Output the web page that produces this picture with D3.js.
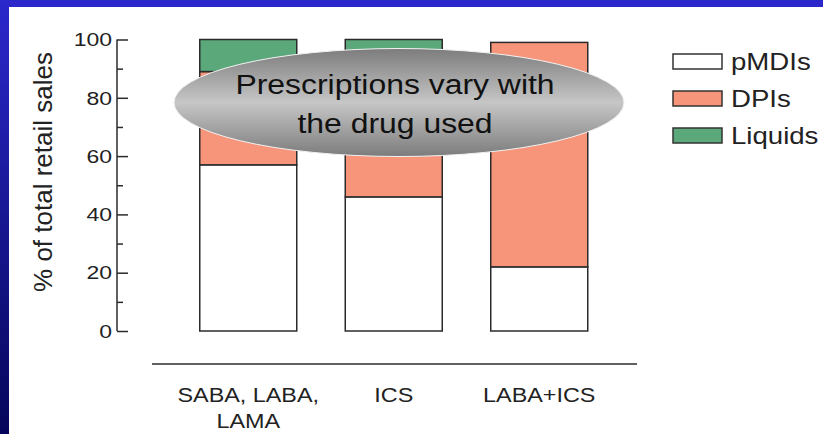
<!DOCTYPE html>
<html>
<head>
<meta charset="utf-8">
<script src="https://cdn.jsdelivr.net/npm/d3@7"></script>
<style>
  body { margin: 0; }
  svg { display: block; font-family: "Liberation Sans", Arial, sans-serif; }
</style>
</head>
<body>
<svg width="823" height="434"></svg>
<script>
// chart data
var categories = [["SABA, LABA,", "LAMA"], ["ICS"], ["LABA+ICS"]];
var series = ["pMDIs", "DPIs", "Liquids"];
var pmdis = [57, 46, 22];
var dpis = [32, 49, 77];
var liquids = [11, 5, 0];
var yTicks = [0, 20, 40, 60, 80, 100];
var colors = ["#ffffff", "#f7957a", "#5ba87b"];
var calloutLines = ["Prescriptions vary with", "the drug used"];

var svg = d3.select("svg"),
    width = +svg.attr("width"),
    height = +svg.attr("height");

var defs = svg.append("defs");

// slide frame (blue border on top and left)
var side = defs.append("linearGradient").attr("id", "side")
    .attr("x1", 0).attr("y1", 0).attr("x2", 0).attr("y2", 1);
side.append("stop").attr("offset", "0%").attr("stop-color", "#2b28cc");
side.append("stop").attr("offset", "100%").attr("stop-color", "#05065a");

svg.append("rect").attr("width", width).attr("height", height).attr("fill", "#ffffff");
svg.append("rect").attr("width", width).attr("height", 7).attr("fill", "#2b27cb");
svg.append("rect").attr("width", 9).attr("height", height).attr("fill", "url(#side)");

// scales
var x = d3.scaleBand()
    .domain(d3.range(categories.length))
    .range([127, 660.5])
    .paddingInner(1 / 3)
    .paddingOuter(0.5);

var y = d3.scaleLinear().domain([0, 100]).range([331, 39.5]);

// the slide text is a bit stretched sideways
function stretched(sel, sx) {
  return sel.attr("transform", function() {
    var t = d3.select(this);
    return "translate(" + t.attr("tx") + "," + t.attr("ty") + ") scale(" + sx + ",1)";
  });
}

// stacked data
var rows = categories.map(function(c, i) {
  return { i: i, pMDIs: pmdis[i], DPIs: dpis[i], Liquids: liquids[i] };
});
var stack = d3.stack().keys(series)(rows);

// bars
svg.append("g")
  .selectAll("g")
  .data(stack)
  .join("g")
    .attr("fill", function(d, k) { return colors[k]; })
  .selectAll("rect")
  .data(function(d) { return d.filter(function(s) { return s[1] > s[0]; }); })
  .join("rect")
    .attr("x", function(d) { return x(d.data.i); })
    .attr("width", x.bandwidth())
    .attr("y", function(d) { return y(d[1]); })
    .attr("height", function(d) { return y(d[0]) - y(d[1]); })
    .attr("stroke", "#2b2b2b")
    .attr("stroke-width", 1.5);

// y axis, ticks pointing right
var yAxis = svg.append("g")
    .attr("transform", "translate(117,0)")
    .call(d3.axisRight(y).tickValues(d3.range(0, 101, 10)).tickSize(11).tickFormat(""));
yAxis.select(".domain").attr("stroke", "#2b2b2b").attr("stroke-width", 1.5)
    .attr("d", "M0," + y(100) + "V" + y(0));
yAxis.selectAll(".tick line")
    .attr("stroke", "#2b2b2b").attr("stroke-width", 1.5)
    .attr("x2", function(d) { return d % 20 === 0 ? 11 : 6; });

svg.append("g")
  .selectAll("g")
  .data(yTicks)
  .join("g")
    .attr("tx", 112)
    .attr("ty", function(d) { return y(d); })
    .call(stretched, 1.23)
  .append("text")
    .attr("dy", "0.36em")
    .attr("text-anchor", "end")
    .attr("font-size", 18.7)
    .attr("fill", "#222")
    .text(function(d) { return d; });

svg.append("text")
    .attr("transform", "translate(52,172) rotate(-90)")
    .attr("text-anchor", "middle")
    .attr("font-size", 26)
    .attr("fill", "#222")
    .text("% of total retail sales");

// x baseline
svg.append("line")
    .attr("x1", 152).attr("x2", 637)
    .attr("y1", 364).attr("y2", 364)
    .attr("stroke", "#2b2b2b").attr("stroke-width", 1.5);

svg.append("g")
  .selectAll("g")
  .data(categories)
  .join("g")
    .attr("tx", function(d, i) { return x(i) + x.bandwidth() / 2; })
    .attr("ty", 402)
    .call(stretched, 1.14)
  .append("text")
    .attr("text-anchor", "middle")
    .attr("font-size", 20.5)
    .attr("fill", "#222")
  .selectAll("tspan")
  .data(function(d) { return d; })
  .join("tspan")
    .attr("x", 0)
    .attr("dy", function(d, j) { return j === 0 ? 0 : 26; })
    .text(function(d) { return d; });

// legend
var legend = svg.append("g")
  .selectAll("g")
  .data(series)
  .join("g")
    .attr("transform", function(d, k) { return "translate(673," + (54 + k * 37) + ")"; });
legend.append("rect")
    .attr("width", 49).attr("height", 15)
    .attr("fill", function(d, k) { return colors[k]; })
    .attr("stroke", "#333").attr("stroke-width", 1.5);
legend.append("g")
    .attr("tx", 58).attr("ty", 7.5)
    .call(stretched, 1.2)
  .append("text")
    .attr("dy", "0.36em")
    .attr("font-size", 23)
    .attr("fill", "#222")
    .text(function(d) { return d; });

// callout ellipse
var grey = defs.append("linearGradient").attr("id", "grey")
    .attr("x1", 0).attr("y1", 0).attr("x2", 0).attr("y2", 1);
grey.append("stop").attr("offset", "0%").attr("stop-color", "#7c7c7c");
grey.append("stop").attr("offset", "50%").attr("stop-color", "#c6c6c6");
grey.append("stop").attr("offset", "100%").attr("stop-color", "#7c7c7c");

svg.append("ellipse")
    .attr("cx", 399).attr("cy", 102.5)
    .attr("rx", 225).attr("ry", 54)
    .attr("fill", "url(#grey)")
    .attr("stroke", "#f2f2f2").attr("stroke-width", 1);

svg.append("g")
  .selectAll("g")
  .data(calloutLines)
  .join("g")
    .attr("tx", 395)
    .attr("ty", function(d, i) { return 94 + i * 39; })
    .call(stretched, 1.14)
  .append("text")
    .attr("text-anchor", "middle")
    .attr("font-size", 28)
    .attr("fill", "#111")
    .text(function(d) { return d; });
</script>
</body>
</html>
